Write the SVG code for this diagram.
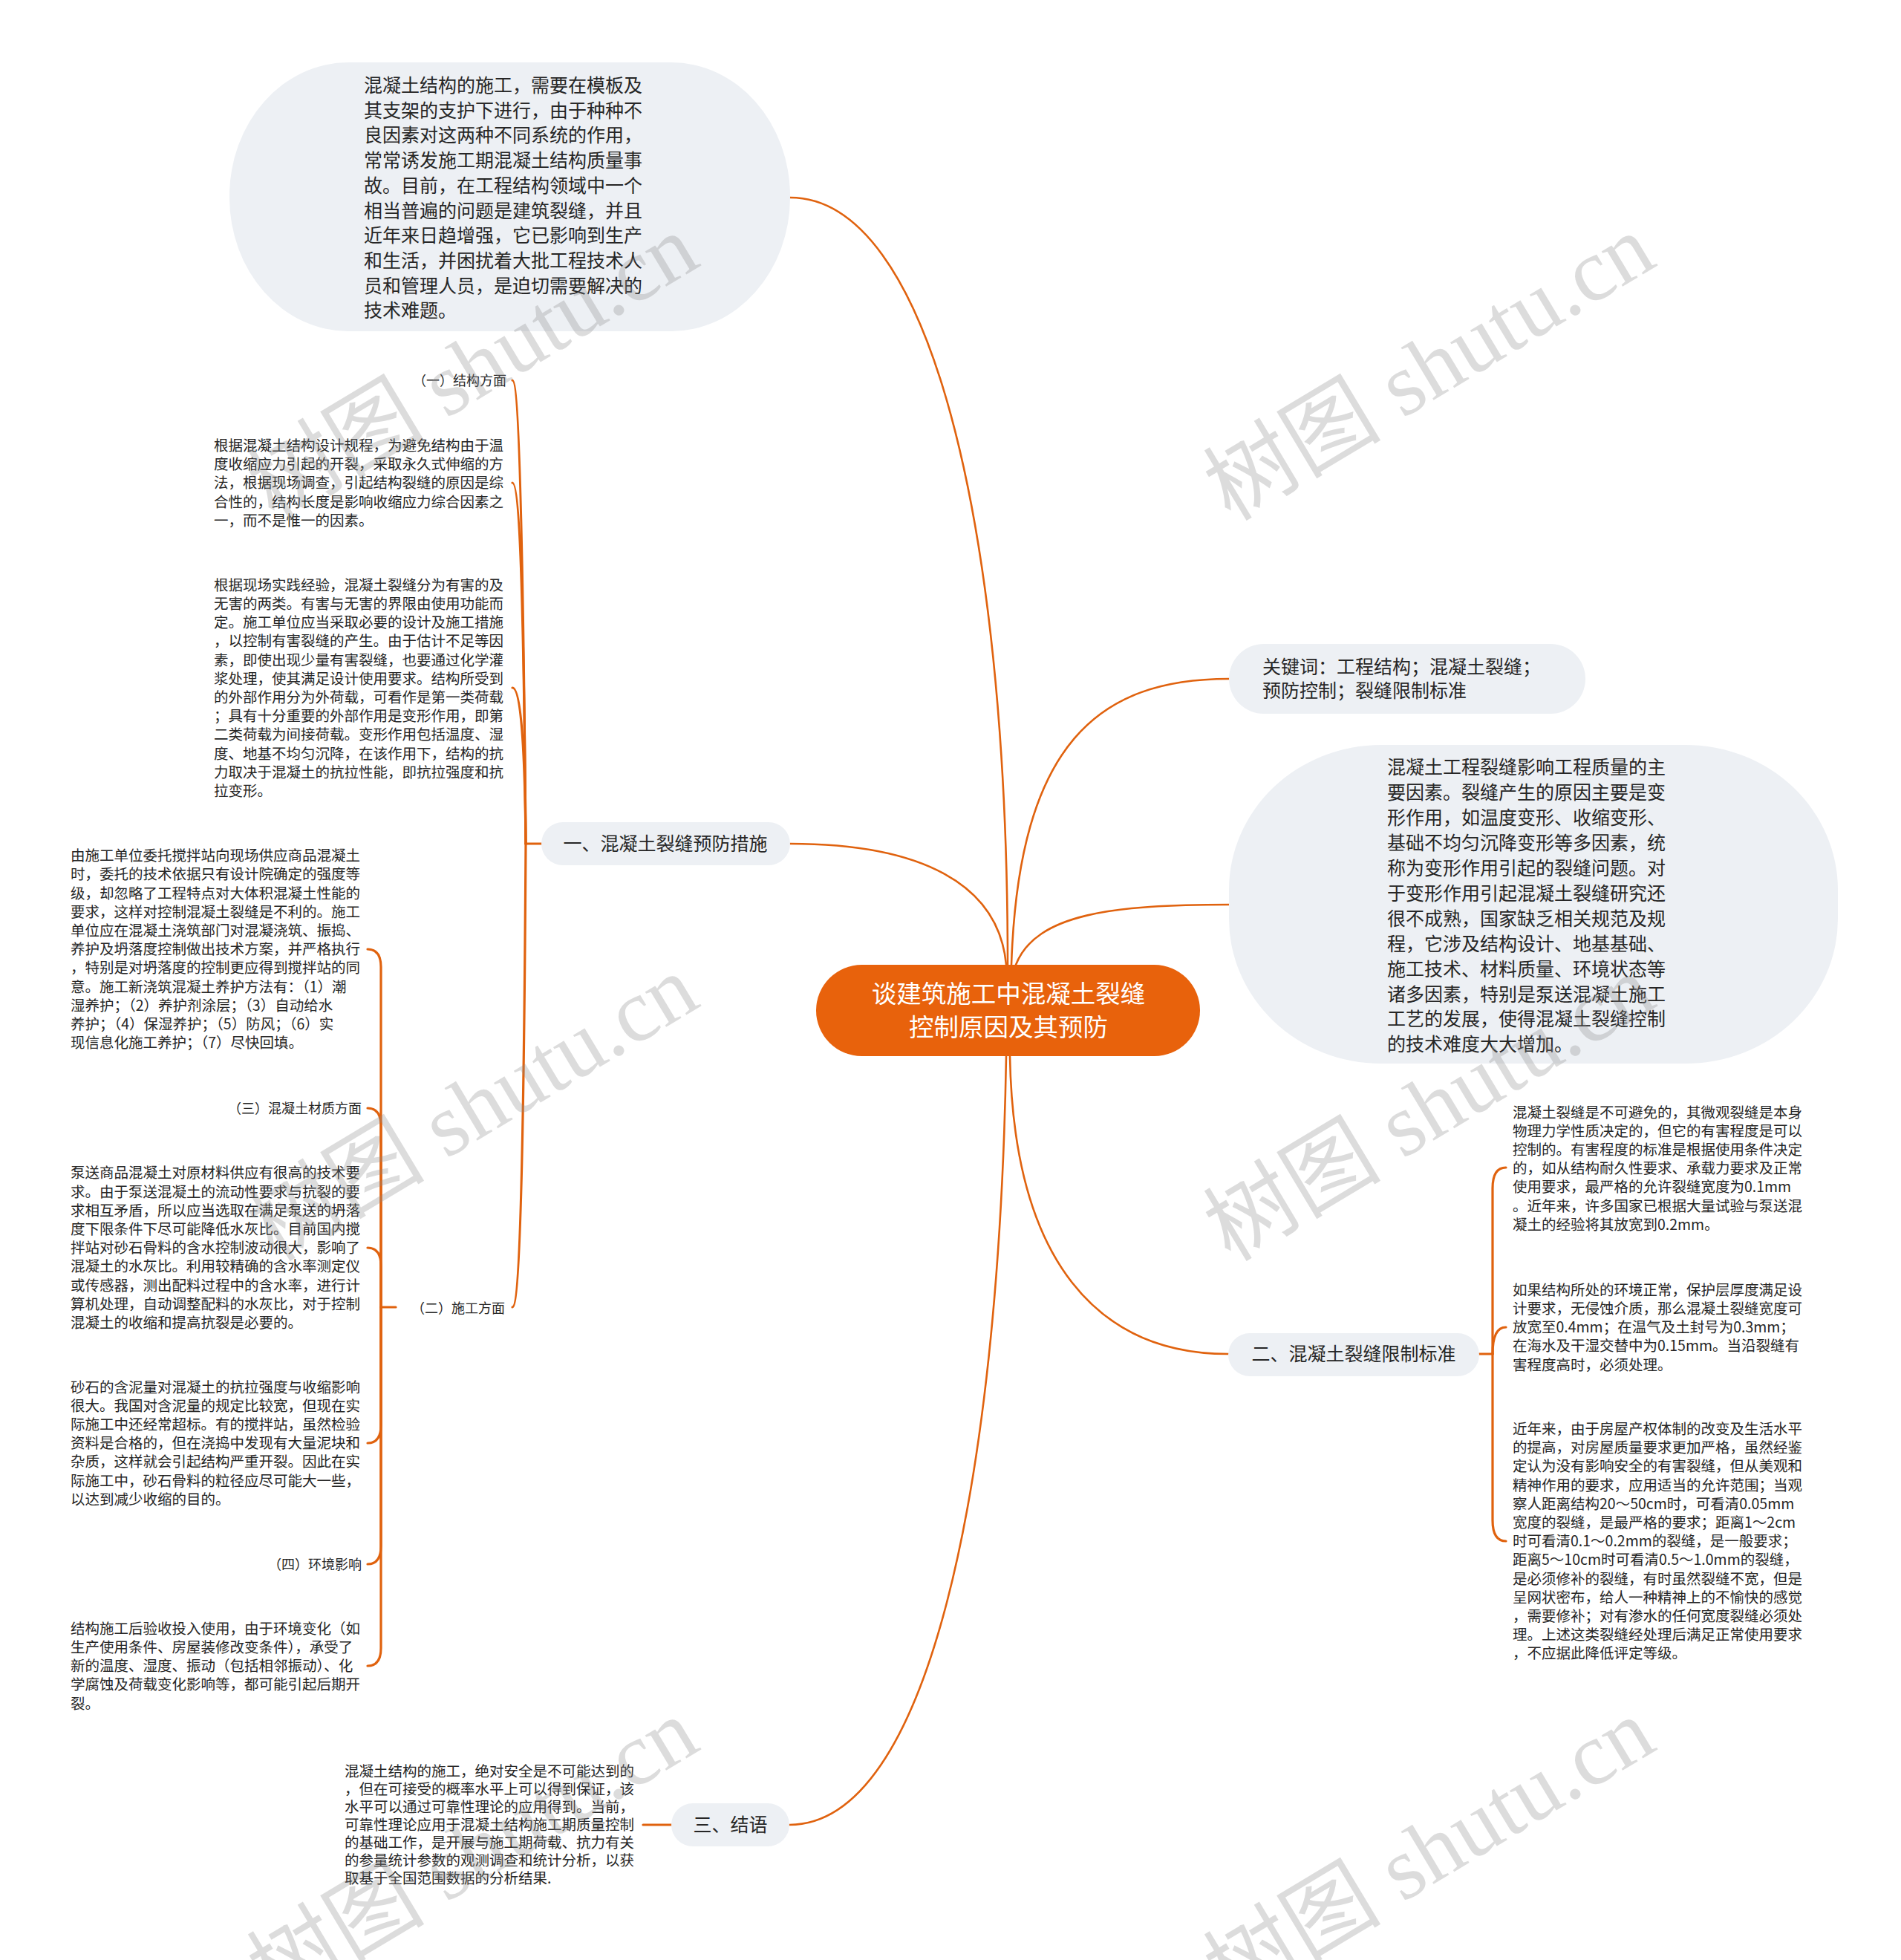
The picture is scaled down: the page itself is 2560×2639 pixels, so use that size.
<svg xmlns="http://www.w3.org/2000/svg" width="2560" height="2639" viewBox="0 0 2560 2639">
<style>
.bg{fill:#ffffff}
.conn{fill:none;stroke:#E0620E;stroke-width:2.6;stroke-linecap:round}
.brace{fill:none;stroke:#E0620E;stroke-width:3.2;stroke-linecap:round}
.bub{fill:#EDF0F4}
.root{fill:#E8620C}
.tx{font-family:"Noto Sans CJK SC","Liberation Sans",sans-serif;fill:#262626}
.m{font-size:25px}
.s{font-size:19.5px}
.l{font-size:18px;text-anchor:end}
.c{text-anchor:middle}
.rt{font-family:"Noto Sans CJK SC","Liberation Sans",sans-serif;font-size:33.5px;fill:#ffffff;text-anchor:middle}
.wm{font-family:"Liberation Serif","Noto Sans CJK SC",serif;font-size:120px;fill:#8a8a8a;fill-opacity:0.3}
</style>
<rect class="bg" x="0" y="0" width="2560" height="2639"/>

<g id="connectors">
  <path class="conn" d="M1064,266 C1250,266 1357,700 1357,1299"/>
  <path class="conn" d="M1064,1136 C1240,1136 1345,1190 1355,1299"/>
  <path class="conn" d="M1362,1299 C1372,1000 1480,914 1655,914"/>
  <path class="conn" d="M1368,1299 C1395,1230 1500,1218 1655,1218"/>
  <path class="conn" d="M1360,1422 C1365,1700 1480,1823 1654,1823"/>
  <path class="conn" d="M1063,2457 C1250,2457 1345,2000 1355,1422"/>
  <path class="brace" d="M729,1136 L708,1136"/>
  <path class="brace" d="M708,1136 C705,800 700,512 690,512"/>
  <path class="brace" d="M708,1136 C706,900 702,650 690,650"/>
  <path class="brace" d="M708,1136 C707,1030 703,926 690,926"/>
  <path class="brace" d="M708,1136 C706,1450 702,1760 690,1760"/>
  <path class="brace" d="M533,1760 L513,1760"/>
  <path class="brace" d="M513,1760 L513,1302 Q513,1278 495,1278"/>
  <path class="brace" d="M513,1760 L513,1516 Q513,1492 495,1492"/>
  <path class="brace" d="M513,1760 L513,1704 Q513,1680 495,1680"/>
  <path class="brace" d="M513,1760 L513,1919 Q513,1943 495,1943"/>
  <path class="brace" d="M513,1760 L513,2082 Q513,2106 495,2106"/>
  <path class="brace" d="M513,1760 L513,2219 Q513,2243 495,2243"/>
  <path class="brace" d="M1992,1823 L2010,1823"/>
  <path class="brace" d="M2010,1823 L2010,1600 Q2010,1572 2028,1572"/>
  <path class="brace" d="M2010,1823 Q2010,1787 2028,1787"/>
  <path class="brace" d="M2010,1823 L2010,2047 Q2010,2075 2028,2075"/>
  <path class="brace" d="M904,2457 L866,2457"/>
</g>

<g id="node-root">
  <rect class="root" x="1099" y="1299" width="517" height="123" rx="61.5"/>
  <text class="rt"><tspan x="1358" y="1350">谈建筑施工中混凝土裂缝</tspan><tspan x="1358" y="1395">控制原因及其预防</tspan></text>
</g>

<g id="node-intro">
  <rect class="bub" x="309" y="84" width="755" height="362" rx="160" ry="180"/>
  <text class="tx m">
    <tspan x="490" y="124">混凝土结构的施工，需要在模板及</tspan>
    <tspan x="490" y="157.5">其支架的支护下进行，由于种种不</tspan>
    <tspan x="490" y="191">良因素对这两种不同系统的作用，</tspan>
    <tspan x="490" y="225">常常诱发施工期混凝土结构质量事</tspan>
    <tspan x="490" y="259">故。目前，在工程结构领域中一个</tspan>
    <tspan x="490" y="292.5">相当普遍的问题是建筑裂缝，并且</tspan>
    <tspan x="490" y="326">近年来日趋增强，它已影响到生产</tspan>
    <tspan x="490" y="360">和生活，并困扰着大批工程技术人</tspan>
    <tspan x="490" y="393.5">员和管理人员，是迫切需要解决的</tspan>
    <tspan x="490" y="427">技术难题。</tspan>
  </text>
</g>

<g id="node-keywords">
  <rect class="bub" x="1655" y="867" width="480" height="94" rx="47"/>
  <text class="tx m"><tspan x="1700" y="907">关键词：工程结构；混凝土裂缝；</tspan><tspan x="1700" y="939">预防控制；裂缝限制标准</tspan></text>
</g>

<g id="node-summary">
  <rect class="bub" x="1655" y="1003" width="820" height="429" rx="205" ry="195"/>
  <text class="tx m">
    <tspan x="1868" y="1042">混凝土工程裂缝影响工程质量的主</tspan>
    <tspan x="1868" y="1076">要因素。裂缝产生的原因主要是变</tspan>
    <tspan x="1868" y="1110">形作用，如温度变形、收缩变形、</tspan>
    <tspan x="1868" y="1144">基础不均匀沉降变形等多因素，统</tspan>
    <tspan x="1868" y="1178">称为变形作用引起的裂缝问题。对</tspan>
    <tspan x="1868" y="1212">于变形作用引起混凝土裂缝研究还</tspan>
    <tspan x="1868" y="1246">很不成熟，国家缺乏相关规范及规</tspan>
    <tspan x="1868" y="1280">程，它涉及结构设计、地基基础、</tspan>
    <tspan x="1868" y="1314">施工技术、材料质量、环境状态等</tspan>
    <tspan x="1868" y="1348">诸多因素，特别是泵送混凝土施工</tspan>
    <tspan x="1868" y="1381">工艺的发展，使得混凝土裂缝控制</tspan>
    <tspan x="1868" y="1415">的技术难度大大增加。</tspan>
  </text>
</g>

<g id="node-b1">
  <rect class="bub" x="729" y="1107" width="335" height="58" rx="29"/>
  <text class="tx m c" x="896" y="1145">一、混凝土裂缝预防措施</text>
</g>

<g id="node-b1-struct">
  <text class="tx l" x="682" y="519">（一）结构方面</text>
</g>

<g id="node-b1-a">
  <text class="tx s">
    <tspan x="288" y="607">根据混凝土结构设计规程，为避免结构由于温</tspan>
    <tspan x="288" y="632">度收缩应力引起的开裂，采取永久式伸缩的方</tspan>
    <tspan x="288" y="657">法，根据现场调查，引起结构裂缝的原因是综</tspan>
    <tspan x="288" y="683">合性的，结构长度是影响收缩应力综合因素之</tspan>
    <tspan x="288" y="708">一，而不是惟一的因素。</tspan>
  </text>
</g>

<g id="node-b1-b">
  <text class="tx s">
    <tspan x="288" y="795">根据现场实践经验，混凝土裂缝分为有害的及</tspan>
    <tspan x="288" y="820">无害的两类。有害与无害的界限由使用功能而</tspan>
    <tspan x="288" y="845">定。施工单位应当采取必要的设计及施工措施</tspan>
    <tspan x="288" y="870">，以控制有害裂缝的产生。由于估计不足等因</tspan>
    <tspan x="288" y="895.5">素，即使出现少量有害裂缝，也要通过化学灌</tspan>
    <tspan x="288" y="920.5">浆处理，使其满足设计使用要求。结构所受到</tspan>
    <tspan x="288" y="946">的外部作用分为外荷载，可看作是第一类荷载</tspan>
    <tspan x="288" y="971">；具有十分重要的外部作用是变形作用，即第</tspan>
    <tspan x="288" y="996">二类荷载为间接荷载。变形作用包括温度、湿</tspan>
    <tspan x="288" y="1021.5">度、地基不均匀沉降，在该作用下，结构的抗</tspan>
    <tspan x="288" y="1046.5">力取决于混凝土的抗拉性能，即抗拉强度和抗</tspan>
    <tspan x="288" y="1072">拉变形。</tspan>
  </text>
</g>

<g id="node-b1-constr">
  <text class="tx l" x="680" y="1768">（二）施工方面</text>
</g>

<g id="node-c-supply">
  <text class="tx s">
    <tspan x="95" y="1159">由施工单位委托搅拌站向现场供应商品混凝土</tspan>
    <tspan x="95" y="1184">时，委托的技术依据只有设计院确定的强度等</tspan>
    <tspan x="95" y="1210">级，却忽略了工程特点对大体积混凝土性能的</tspan>
    <tspan x="95" y="1235">要求，这样对控制混凝土裂缝是不利的。施工</tspan>
    <tspan x="95" y="1260">单位应在混凝土浇筑部门对混凝浇筑、振捣、</tspan>
    <tspan x="95" y="1285">养护及坍落度控制做出技术方案，并严格执行</tspan>
    <tspan x="95" y="1310">，特别是对坍落度的控制更应得到搅拌站的同</tspan>
    <tspan x="95" y="1336">意。施工新浇筑混凝土养护方法有：（1）潮</tspan>
    <tspan x="95" y="1361">湿养护；（2）养护剂涂层；（3）自动给水</tspan>
    <tspan x="95" y="1386">养护；（4）保湿养护；（5）防风；（6）实</tspan>
    <tspan x="95" y="1411">现信息化施工养护；（7）尽快回填。</tspan>
  </text>
</g>

<g id="node-c-material">
  <text class="tx l" x="487" y="1499">（三）混凝土材质方面</text>
</g>

<g id="node-c-pump">
  <text class="tx s">
    <tspan x="95" y="1586">泵送商品混凝土对原材料供应有很高的技术要</tspan>
    <tspan x="95" y="1612">求。由于泵送混凝土的流动性要求与抗裂的要</tspan>
    <tspan x="95" y="1637">求相互矛盾，所以应当选取在满足泵送的坍落</tspan>
    <tspan x="95" y="1662">度下限条件下尽可能降低水灰比。目前国内搅</tspan>
    <tspan x="95" y="1687">拌站对砂石骨料的含水控制波动很大，影响了</tspan>
    <tspan x="95" y="1712">混凝土的水灰比。利用较精确的含水率测定仪</tspan>
    <tspan x="95" y="1738">或传感器，测出配料过程中的含水率，进行计</tspan>
    <tspan x="95" y="1763">算机处理，自动调整配料的水灰比，对于控制</tspan>
    <tspan x="95" y="1788">混凝土的收缩和提高抗裂是必要的。</tspan>
  </text>
</g>

<g id="node-c-sand">
  <text class="tx s">
    <tspan x="95" y="1875">砂石的含泥量对混凝土的抗拉强度与收缩影响</tspan>
    <tspan x="95" y="1900">很大。我国对含泥量的规定比较宽，但现在实</tspan>
    <tspan x="95" y="1925">际施工中还经常超标。有的搅拌站，虽然检验</tspan>
    <tspan x="95" y="1950">资料是合格的，但在浇捣中发现有大量泥块和</tspan>
    <tspan x="95" y="1975">杂质，这样就会引起结构严重开裂。因此在实</tspan>
    <tspan x="95" y="2001">际施工中，砂石骨料的粒径应尽可能大一些，</tspan>
    <tspan x="95" y="2026">以达到减少收缩的目的。</tspan>
  </text>
</g>

<g id="node-c-env">
  <text class="tx l" x="487" y="2113">（四）环境影响</text>
</g>

<g id="node-c-envtext">
  <text class="tx s">
    <tspan x="95" y="2200">结构施工后验收投入使用，由于环境变化（如</tspan>
    <tspan x="95" y="2225">生产使用条件、房屋装修改变条件），承受了</tspan>
    <tspan x="95" y="2250">新的温度、湿度、振动（包括相邻振动）、化</tspan>
    <tspan x="95" y="2275">学腐蚀及荷载变化影响等，都可能引起后期开</tspan>
    <tspan x="95" y="2301">裂。</tspan>
  </text>
</g>

<g id="node-b2">
  <rect class="bub" x="1654" y="1795" width="338" height="58" rx="29"/>
  <text class="tx m c" x="1823" y="1832">二、混凝土裂缝限制标准</text>
</g>

<g id="node-b2-1">
  <text class="tx s">
    <tspan x="2037" y="1505">混凝土裂缝是不可避免的，其微观裂缝是本身</tspan>
    <tspan x="2037" y="1530">物理力学性质决定的，但它的有害程度是可以</tspan>
    <tspan x="2037" y="1555">控制的。有害程度的标准是根据使用条件决定</tspan>
    <tspan x="2037" y="1580">的，如从结构耐久性要求、承载力要求及正常</tspan>
    <tspan x="2037" y="1605">使用要求，最严格的允许裂缝宽度为0.1mm</tspan>
    <tspan x="2037" y="1631">。近年来，许多国家已根据大量试验与泵送混</tspan>
    <tspan x="2037" y="1656">凝土的经验将其放宽到0.2mm。</tspan>
  </text>
</g>

<g id="node-b2-2">
  <text class="tx s">
    <tspan x="2037" y="1744">如果结构所处的环境正常，保护层厚度满足设</tspan>
    <tspan x="2037" y="1769">计要求，无侵蚀介质，那么混凝土裂缝宽度可</tspan>
    <tspan x="2037" y="1794">放宽至0.4mm；在温气及土封号为0.3mm；</tspan>
    <tspan x="2037" y="1819">在海水及干湿交替中为0.15mm。当沿裂缝有</tspan>
    <tspan x="2037" y="1845">害程度高时，必须处理。</tspan>
  </text>
</g>

<g id="node-b2-3">
  <text class="tx s">
    <tspan x="2037" y="1931">近年来，由于房屋产权体制的改变及生活水平</tspan>
    <tspan x="2037" y="1956">的提高，对房屋质量要求更加严格，虽然经鉴</tspan>
    <tspan x="2037" y="1981">定认为没有影响安全的有害裂缝，但从美观和</tspan>
    <tspan x="2037" y="2007">精神作用的要求，应用适当的允许范围；当观</tspan>
    <tspan x="2037" y="2032">察人距离结构20～50cm时，可看清0.05mm</tspan>
    <tspan x="2037" y="2057">宽度的裂缝，是最严格的要求；距离1～2cm</tspan>
    <tspan x="2037" y="2082">时可看清0.1～0.2mm的裂缝，是一般要求；</tspan>
    <tspan x="2037" y="2107">距离5～10cm时可看清0.5～1.0mm的裂缝，</tspan>
    <tspan x="2037" y="2133">是必须修补的裂缝，有时虽然裂缝不宽，但是</tspan>
    <tspan x="2037" y="2158">呈网状密布，给人一种精神上的不愉快的感觉</tspan>
    <tspan x="2037" y="2183">，需要修补；对有渗水的任何宽度裂缝必须处</tspan>
    <tspan x="2037" y="2208">理。上述这类裂缝经处理后满足正常使用要求</tspan>
    <tspan x="2037" y="2233">，不应据此降低评定等级。</tspan>
  </text>
</g>

<g id="node-b3">
  <rect class="bub" x="904" y="2428" width="159" height="58" rx="29"/>
  <text class="tx m c" x="983.5" y="2466">三、结语</text>
</g>

<g id="node-b3-text">
  <text class="tx s">
    <tspan x="464" y="2392">混凝土结构的施工，绝对安全是不可能达到的</tspan>
    <tspan x="464" y="2416">，但在可接受的概率水平上可以得到保证，该</tspan>
    <tspan x="464" y="2440">水平可以通过可靠性理论的应用得到。当前，</tspan>
    <tspan x="464" y="2464">可靠性理论应用于混凝土结构施工期质量控制</tspan>
    <tspan x="464" y="2488">的基础工作，是开展与施工期荷载、抗力有关</tspan>
    <tspan x="464" y="2512">的参量统计参数的观测调查和统计分析，以获</tspan>
    <tspan x="464" y="2536">取基于全国范围数据的分析结果.</tspan>
  </text>
</g>

<g id="watermarks">
  <text class="wm" transform="translate(369,703) rotate(-31)">树图 shutu.cn</text>
  <text class="wm" transform="translate(1657,703) rotate(-31)">树图 shutu.cn</text>
  <text class="wm" transform="translate(369,1700) rotate(-31)">树图 shutu.cn</text>
  <text class="wm" transform="translate(1657,1700) rotate(-31)">树图 shutu.cn</text>
  <text class="wm" transform="translate(369,2701) rotate(-31)">树图 shutu.cn</text>
  <text class="wm" transform="translate(1657,2701) rotate(-31)">树图 shutu.cn</text>
</g>
</svg>
